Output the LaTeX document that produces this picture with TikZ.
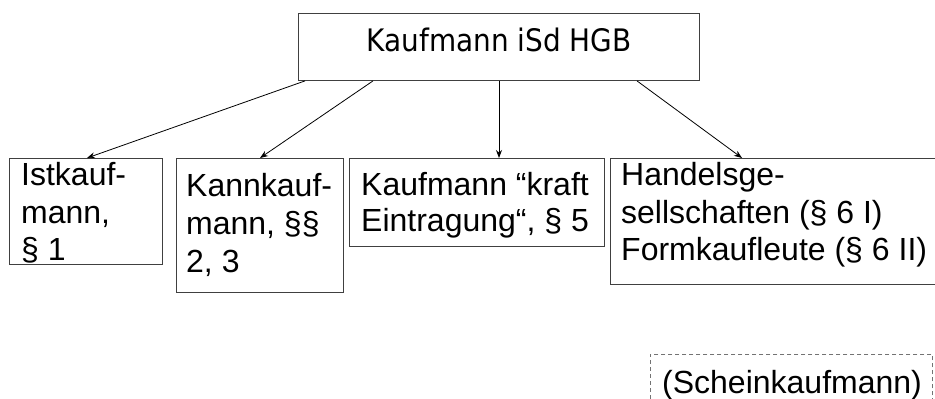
\documentclass[tikz,border=0pt]{standalone}
\usepackage{fontspec}
\setmainfont{Liberation Sans}
\newfontfamily\titlefont[FakeStretch=0.9]{DejaVu Sans}
\usetikzlibrary{arrows.meta}
\tikzset{
  box/.style={draw=black!75, line width=0.9pt, rectangle, inner sep=0pt, anchor=north west},
  dbox/.style={draw=black!55, line width=0.7pt, dash pattern=on 4pt off 3pt, rectangle, inner sep=0pt, anchor=north west},
  txt/.style={anchor=base west, inner sep=0pt, font=\fontsize{32}{38}\selectfont},
  ttl/.style={anchor=base, inner sep=0pt, font=\titlefont\fontsize{31}{36}\selectfont},
  conn/.style={-{Stealth[length=8pt,width=6pt]}, line width=0.8pt, black}
}
\begin{document}
\begin{tikzpicture}[x=1pt,y=-1pt]
\useasboundingbox (0,0) rectangle (935,399);
% boxes
\node[box, minimum width=401pt, minimum height=67pt] (top) at (298,13) {};
\node[box, minimum width=153pt, minimum height=106pt] (ist) at (9,158) {};
\node[box, minimum width=167pt, minimum height=134pt] (kann) at (176,158) {};
\node[box, minimum width=255pt, minimum height=88pt] (kraft) at (349,158) {};
\node[box, minimum width=335pt, minimum height=126pt] (hand) at (610,158) {};
\node[dbox, minimum width=282pt, minimum height=60pt] (schein) at (650,354) {};
% texts
\node[ttl] (ttltxt) at (499,51) {Kaufmann iSd HGB};
\node[txt] (ist1) at (21,185) {Istkauf-};
\node[txt] (ist2) at (21,223) {mann,};
\node[txt] (ist3) at (21,260.5) {§ 1};
\node[txt] (kann1) at (186,196.5) {Kannkauf-};
\node[txt] (kann2) at (186,234.5) {mann, §§};
\node[txt] (kann3) at (186,272.5) {2, 3};
\node[txt] (kraft1) at (361,195) {Kaufmann “kraft};
\node[txt] (kraft2) at (361,231.5) {Eintragung“, § 5};
\node[txt] (hand1) at (621,185) {Handelsge-};
\node[txt] (hand2) at (621,223) {sellschaften (§ 6 I)};
\node[txt] (hand3) at (621,260.5) {Formkaufleute (§ 6 II)};
\node[txt] (schtxt) at (662,393) {(Scheinkaufmann)};
% connectors
\draw[conn] ([xshift=7pt]top.south west) -- ([xshift=78pt]ist.north west);
\draw[conn] ([xshift=75pt]top.south west) -- ([xshift=84pt]kann.north west);
\draw[conn] ([xshift=201pt]top.south west) -- ([xshift=150pt]kraft.north west);
\draw[conn] ([xshift=339pt]top.south west) -- ([xshift=132pt]hand.north west);
\end{tikzpicture}
\end{document}
